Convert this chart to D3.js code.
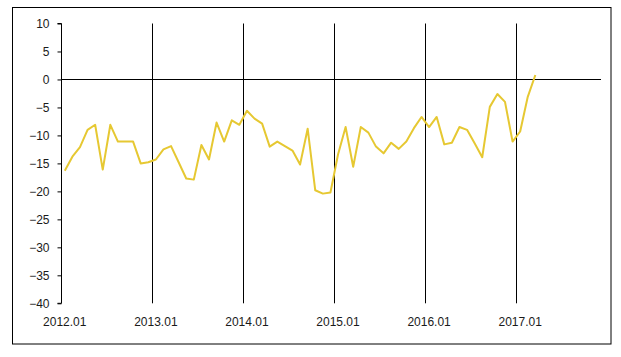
<!DOCTYPE html>
<html>
<head>
<meta charset="utf-8">
<script src="https://cdn.jsdelivr.net/npm/d3@7"></script>
<style>
  html, body { margin: 0; padding: 0; background: #fff; }
  svg { display: block; }
  text { font-family: "Liberation Sans", Arial, sans-serif; font-size: 12px; fill: #1a1a1a; }
</style>
</head>
<body>
<svg id="chart" width="621" height="357"></svg>
<script>
const months = [
  "2012.01","2012.02","2012.03","2012.04","2012.05","2012.06","2012.07","2012.08","2012.09","2012.10","2012.11","2012.12",
  "2013.01","2013.02","2013.03","2013.04","2013.05","2013.06","2013.07","2013.08","2013.09","2013.10","2013.11","2013.12",
  "2014.01","2014.02","2014.03","2014.04","2014.05","2014.06","2014.07","2014.08","2014.09","2014.10","2014.11","2014.12",
  "2015.01","2015.02","2015.03","2015.04","2015.05","2015.06","2015.07","2015.08","2015.09","2015.10","2015.11","2015.12",
  "2016.01","2016.02","2016.03","2016.04","2016.05","2016.06","2016.07","2016.08","2016.09","2016.10","2016.11","2016.12",
  "2017.01","2017.02","2017.03"
];
const values = [
  -16.3, -13.8, -12.1, -9.0, -8.1, -16.1, -8.1, -11.1, -11.1, -11.1, -15.0, -14.8,
  -14.3, -12.5, -11.9, -14.8, -17.7, -17.9, -11.7, -14.3, -7.7, -11.1, -7.3, -8.1,
  -5.6, -7.0, -7.9, -12.0, -11.1, -11.9, -12.7, -15.2, -8.8, -19.8, -20.4, -20.2,
  -13.4, -8.5, -15.6, -8.5, -9.5, -12.0, -13.2, -11.3, -12.4, -11.1, -8.7, -6.7,
  -8.5, -6.7, -11.6, -11.3, -8.5, -9.0, -11.4, -13.9, -4.9, -2.6, -4.0, -11.1,
  -9.3, -3.1, 0.8
];
const yTicks = [10, 5, 0, -5, -10, -15, -20, -25, -30, -35, -40];
const yearLabels = ["2012.01","2013.01","2014.01","2015.01","2016.01","2017.01"];
const monthSpan = 71.15; // axis length in months

const svg = d3.select("#chart");

// outer border
svg.append("rect")
  .attr("x", 12.5).attr("y", 7.5)
  .attr("width", 598.5).attr("height", 336.5)
  .attr("fill", "none").attr("stroke", "#000").attr("stroke-width", 1);

const x = d3.scaleLinear().domain([0, monthSpan]).range([61, 601]);
const y = d3.scaleLinear().domain([-40, 10]).range([303.3, 23.5]);

// y axis
const yAxis = d3.axisLeft(y).tickValues(yTicks).tickSize(4).tickPadding(8).tickFormat(d3.format("d"));
const gy = svg.append("g").attr("transform", "translate(61.5,0)").call(yAxis);
gy.select(".domain").attr("stroke", "#000").attr("d", `M-4,${y(10)}H0V${y(-40)}H-4`);
gy.selectAll(".tick line").attr("stroke", "#000");
gy.selectAll(".tick text").style("font-size", "12px").attr("fill", "#1a1a1a");

// vertical year lines (month index 12, 24, ...)
const yearIdx = yearLabels.map(l => months.indexOf(l));
svg.append("g").selectAll("line")
  .data(yearIdx.filter(i => i > 0))
  .join("line")
  .attr("x1", d => Math.round(x(d)) + 0.5).attr("x2", d => Math.round(x(d)) + 0.5)
  .attr("y1", y(10)).attr("y2", y(-40))
  .attr("stroke", "#000").attr("stroke-width", 1);

// zero line
svg.append("line")
  .attr("x1", x(0)).attr("x2", x(monthSpan))
  .attr("y1", Math.round(y(0)) + 0.5).attr("y2", Math.round(y(0)) + 0.5)
  .attr("stroke", "#000").attr("stroke-width", 1);

// x labels
svg.append("g").selectAll("text")
  .data(yearIdx)
  .join("text")
  .attr("x", d => x(d + 0.5))
  .attr("y", 326)
  .attr("text-anchor", "middle")
  .text((d, i) => yearLabels[i]);

// data line
const line = d3.line()
  .x((d, i) => x(i + 0.5))
  .y(d => y(d));
svg.append("path")
  .datum(values)
  .attr("d", line)
  .attr("fill", "none")
  .attr("stroke", "#E6C832")
  .attr("stroke-width", 2)
  .attr("stroke-linejoin", "round");
</script>
</body>
</html>
